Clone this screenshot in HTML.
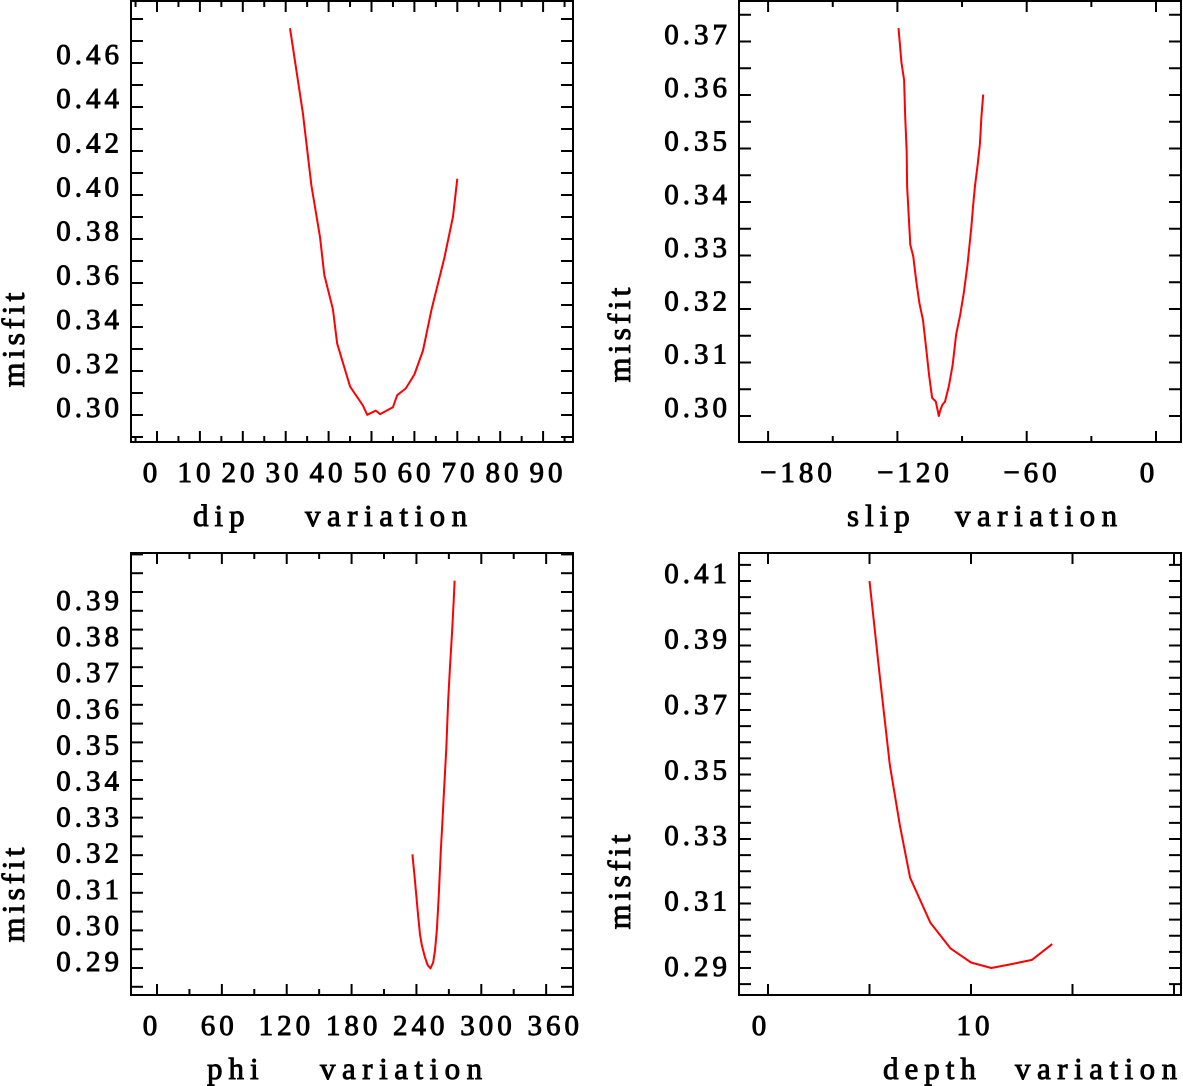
<!DOCTYPE html>
<html><head><meta charset="utf-8"><style>
html,body{margin:0;padding:0;background:#fff;}
svg{display:block;}
text{font-family:"Liberation Serif",serif;font-size:29px;fill:#000;stroke:#000;stroke-width:0.9px;letter-spacing:4px;}
</style></head><body>
<svg id="chart" width="1183" height="1086" viewBox="0 0 1183 1086" xmlns="http://www.w3.org/2000/svg"></svg>
<script>
// ---- data ----
const dipX = [31,34,36,38,39,41,42,45,48,49,51,52,55,56,58,60,62,64,67,69,70];
const dipY = [0.4758,0.4371,0.4043,0.3809,0.3637,0.3481,0.3324,0.3129,0.3043,0.3001,0.3020,0.3004,0.3035,0.3090,0.3121,0.3184,0.3293,0.3481,0.3715,0.3902,0.4074];
const slipX = [-119.5,-118.1,-116.9,-116.4,-115.7,-115.5,-114.8,-114.0,-112.6,-111.2,-109.8,-108.1,-106.5,-105.3,-103.9,-102.2,-100.8,-100.1,-99.1,-97.9,-96.1,-94.4,-92.7,-90.9,-89.2,-87.5,-85.7,-84.9,-84.0,-82.8,-81.7,-81.0,-80.2];
const slipY = [0.3725,0.3660,0.3628,0.3559,0.3494,0.3430,0.3378,0.3320,0.3298,0.3250,0.3211,0.3179,0.3121,0.3076,0.3034,0.3027,0.3000,0.3011,0.3021,0.3027,0.3056,0.3095,0.3153,0.3188,0.3230,0.3281,0.3352,0.3391,0.3430,0.3469,0.3508,0.3559,0.3601];
const phiX = [236.3,238.0,239.8,241.5,243.3,245.0,247.8,250.3,253.0,255.5,257.2,258.9,260.7,262.4,264.2,265.9,267.6,269.4,271.1,272.9,274.6,275.3];
const phiY = [0.3202,0.3151,0.3096,0.3040,0.2989,0.2961,0.2929,0.2908,0.2899,0.2915,0.2947,0.3003,0.3095,0.3206,0.3299,0.3391,0.3484,0.3613,0.3706,0.3790,0.3882,0.3930];
const depthX = [5,5.5,6,6.5,7,8,9,10,11,12,13,14];
const depthY = [0.410,0.381,0.353,0.334,0.318,0.304,0.296,0.2917,0.290,0.2912,0.2925,0.2974];
const dipTickLabels = [0,10,20,30,40,50,60,70,80,90];
const slipTickLabels = [-180,-120,-60,0];
const phiTickLabels = [0,60,120,180,240,300,360];
const depthTickLabels = [0,10];
const dipYLabels = [0.30,0.32,0.34,0.36,0.38,0.40,0.42,0.44,0.46];
const slipYLabels = [0.30,0.31,0.32,0.33,0.34,0.35,0.36,0.37];
const phiYLabels = [0.29,0.30,0.31,0.32,0.33,0.34,0.35,0.36,0.37,0.38,0.39];
const depthYLabels = [0.29,0.31,0.33,0.35,0.37,0.39,0.41];

const svg = document.getElementById('chart');
const NS = 'http://www.w3.org/2000/svg';
function mk(tag, attrs, parent){const e=document.createElementNS(NS,tag);for(const k in attrs)e.setAttribute(k,attrs[k]);(parent||svg).appendChild(e);return e;}

function panel(cfg){
  const g = mk('g',{});
  
  
  const {L,R,T,B} = cfg;
  const sx = v => cfg.x0 + (v - cfg.xv0) * cfg.xs;
  const sy = v => cfg.y0 - (v - cfg.yv0) * cfg.ys;
  const lx = v => cfg.xl0 + (v - cfg.xv0) * cfg.xlS;
  const ly = v => cfg.yl0 - (v - cfg.yv0) * cfg.ylS;
  const box = mk('rect',{x:L,y:T,width:R-L,height:B-T,fill:'none',stroke:'#000','stroke-width':2},g);
  
  
  for(let v=cfg.xMin; v<=cfg.xMax+1e-9; v+=cfg.xMinor){
    const x=sx(v); if(x<L+1||x>R-1) continue;
    const major = Math.abs(v/cfg.xMajor - Math.round(v/cfg.xMajor))<1e-6;
    const len = major?11:6;
    mk('line',{x1:x,x2:x,y1:B,y2:B-len,stroke:'#000','stroke-width':2},g);
    mk('line',{x1:x,x2:x,y1:T,y2:T+len,stroke:'#000','stroke-width':2},g);
  }
  for(let i=0;;i++){
    const v = cfg.yMin + i*cfg.yMinor; const y=sy(v);
    if(y<T+1) break; if(y>B-1) continue;
    mk('line',{x1:L,x2:L+12,y1:y,y2:y,stroke:'#000','stroke-width':2},g);
    mk('line',{x1:R,x2:R-12,y1:y,y2:y,stroke:'#000','stroke-width':2},g);
  }
  cfg.xLabels.forEach(v=>{
    const t=mk('text',{x:lx(v),y:cfg.xlY,'text-anchor':'middle'},g);
    t.textContent = v<0 ? '\u2212'+(-v) : String(v);
    
    
  });
  cfg.yLabels.forEach(v=>{
    const t=mk('text',{x:L-8,y:ly(v)+10,'text-anchor':'end'},g);
    t.textContent = v.toFixed(2);
    
    
  });
  const yt=mk('text',{x:0,y:0,transform:`translate(${cfg.ytX},${cfg.ytY}) rotate(-90)`,'text-anchor':'middle'},g);
  yt.textContent='misfit';
  
  
  yt.style.fontSize='32px';
  const xt=mk('text',{x:cfg.xtX,y:cfg.xtY},g);
  xt.textContent=cfg.xTitle;
  
  
  xt.style.fontSize='31px';
  xt.style.letterSpacing='6px';
  const xv=mk('text',{x:cfg.xvX,y:cfg.xtY},g);
  xv.textContent='variation';
  
  
  xv.style.fontSize='31px';
  xv.style.letterSpacing='6.5px';
  const pts = cfg.xs_.map((v,i)=>sx(v).toFixed(1)+','+sy(cfg.ys_[i]).toFixed(1)).join(' ');
  const pl=mk('polyline',{points:pts,fill:'none',stroke:'#ff0000','stroke-width':2,'stroke-linejoin':'round'},g);
  
  
}

panel({name:'dip-panel',L:131,R:573,T:1,B:442,x0:157,xv0:0,xs:4.29,y0:415,yv0:0.30,ys:2200,
  xMin:-5,xMax:105,xMinor:5,xMajor:10,yMin:0.29,yMinor:0.01,
  xLabels:dipTickLabels,xl0:152,xlS:4.4,xlY:482,yLabels:dipYLabels,yl0:407,ylS:2206,
  ytX:24,ytY:338,xTitle:'dip',xtX:193,xvX:305,xtY:526,xs_:dipX,ys_:dipY});
panel({name:'slip-panel',L:739,R:1181,T:1,B:442,x0:1156,xv0:0,xs:2.155,y0:416,yv0:0.30,ys:5350,
  xMin:-210,xMax:30,xMinor:30,xMajor:60,yMin:0.295,yMinor:0.005,
  xLabels:slipTickLabels,xl0:1149,xlS:1.95,xlY:482,yLabels:slipYLabels,yl0:407,ylS:5330,
  ytX:630,ytY:333,xTitle:'slip',xtX:847,xvX:955,xtY:526,xs_:slipX,ys_:slipY});
panel({name:'phi-panel',L:131,R:573,T:553,B:995,x0:157,xv0:0,xs:1.081,y0:968,yv0:0.29,ys:3760,
  xMin:-30,xMax:400,xMinor:30,xMajor:60,yMin:0.285,yMinor:0.005,
  xLabels:phiTickLabels,xl0:152,xlS:1.12,xlY:1035,yLabels:phiYLabels,yl0:961,ylS:3610,
  ytX:24,ytY:893,xTitle:'phi',xtX:207,xvX:320,xtY:1079,xs_:phiX,ys_:phiY});
panel({name:'depth-panel',L:739,R:1181,T:553,B:995,x0:768,xv0:0,xs:20.3,y0:968,yv0:0.29,ys:3225,
  xMin:-5,xMax:25,xMinor:5,xMajor:5,yMin:0.285,yMinor:0.005,
  xLabels:depthTickLabels,xl0:761,xlS:21.4,xlY:1035,yLabels:depthYLabels,yl0:966,ylS:3275,
  ytX:630,ytY:880,xTitle:'depth',xtX:883,xvX:1015,xtY:1079,xs_:depthX,ys_:depthY});
</script>
</body></html>
